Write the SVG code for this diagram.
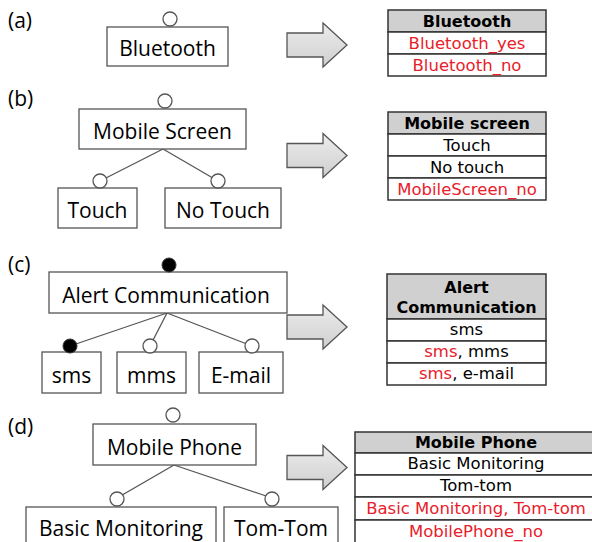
<svg xmlns="http://www.w3.org/2000/svg" width="592" height="542" viewBox="0 0 592 542">
<style>
.box{fill:#fff;stroke:#555;stroke-width:1.3}
.oc{fill:#fff;stroke:#555;stroke-width:1.3}
.fc{fill:#000;stroke:#333;stroke-width:1}
.nt{font-family:"Open Sans","Liberation Sans",sans-serif;font-size:21px;fill:#000;text-anchor:middle}
.lab{font-family:"Open Sans","Liberation Sans",sans-serif;font-size:21px;fill:#000}
.ln{stroke:#555;stroke-width:1.3;fill:none}
.arr{fill:url(#ag);stroke:#555;stroke-width:1.3}
.th{fill:#d0d0d0;stroke:#333;stroke-width:1.5}
.td{fill:#fff;stroke:#333;stroke-width:1.5}
.tt{font-family:"DejaVu Sans",Verdana,sans-serif;font-size:16.5px;fill:#000;text-anchor:middle}
.tb{font-family:"DejaVu Sans",Verdana,sans-serif;font-size:16px;font-weight:bold;fill:#000;text-anchor:middle}
.red{fill:#e8202a}
</style>
<defs>
<linearGradient id="ag" x1="0" y1="0" x2="0" y2="1">
<stop offset="0" stop-color="#ececec"/>
<stop offset="1" stop-color="#cfcfcf"/>
</linearGradient>
<path id="arrow" d="M0,-12 H36 V-22 L60,0 L36,22 V12 H0 Z"/>
</defs>

<g id="labels">
<text class="lab" x="8" y="28">(a)</text>
<text class="lab" x="8" y="106">(b)</text>
<text class="lab" x="8" y="272">(c)</text>
<text class="lab" x="8" y="434">(d)</text>
</g>

<g id="connectors">
<line class="ln" x1="163" y1="149" x2="100" y2="181"/>
<line class="ln" x1="163" y1="149" x2="218" y2="181"/>
<line class="ln" x1="167" y1="313" x2="70" y2="346"/>
<line class="ln" x1="167" y1="313" x2="150" y2="346"/>
<line class="ln" x1="167" y1="313" x2="252" y2="346"/>
<line class="ln" x1="174" y1="465" x2="117" y2="498"/>
<line class="ln" x1="174" y1="465" x2="272" y2="498"/>
</g>

<g id="bluetooth">
<rect class="box" x="107" y="27" width="121" height="39"/>
<circle class="oc" cx="170" cy="19" r="7"/>
<text class="nt" x="167.5" y="56">Bluetooth</text>
</g>

<g id="mobile-screen">
<rect class="box" x="79" y="109" width="167" height="40"/>
<circle class="oc" cx="165" cy="101" r="7"/>
<text class="nt" x="162.5" y="139">Mobile Screen</text>
</g>
<g id="touch">
<rect class="box" x="58" y="188" width="79" height="40"/>
<circle class="oc" cx="100" cy="181" r="7"/>
<text class="nt" x="97.5" y="218">Touch</text>
</g>
<g id="no-touch">
<rect class="box" x="165" y="188" width="116" height="40"/>
<circle class="oc" cx="218" cy="181" r="7"/>
<text class="nt" x="223" y="218">No Touch</text>
</g>

<g id="alert-communication">
<rect class="box" x="49" y="272" width="238" height="41"/>
<circle class="fc" cx="169" cy="265" r="7"/>
<text class="nt" x="166" y="303">Alert Communication</text>
</g>
<g id="sms">
<rect class="box" x="42" y="352" width="59" height="41"/>
<circle class="fc" cx="70" cy="346" r="7"/>
<text class="nt" x="71.5" y="383">sms</text>
</g>
<g id="mms">
<rect class="box" x="117" y="352" width="69" height="41"/>
<circle class="oc" cx="150" cy="346" r="7"/>
<text class="nt" x="151.5" y="383">mms</text>
</g>
<g id="email">
<rect class="box" x="199" y="352" width="84" height="41"/>
<circle class="oc" cx="252" cy="346" r="7"/>
<text class="nt" x="241" y="383">E-mail</text>
</g>

<g id="mobile-phone">
<rect class="box" x="93" y="424" width="163" height="41"/>
<circle class="oc" cx="173" cy="415" r="7"/>
<text class="nt" x="174.5" y="455">Mobile Phone</text>
</g>
<g id="basic-monitoring">
<rect class="box" x="26" y="507" width="190" height="45"/>
<circle class="oc" cx="117" cy="499" r="7"/>
<text class="nt" x="121" y="535.5">Basic Monitoring</text>
</g>
<g id="tom-tom">
<rect class="box" x="224" y="507" width="114" height="45"/>
<circle class="oc" cx="272" cy="499" r="7"/>
<text class="nt" x="281" y="535.5">Tom-Tom</text>
</g>

<g id="arrows">
<use href="#arrow" class="arr" x="287" y="45"/>
<use href="#arrow" class="arr" x="287" y="155.5"/>
<use href="#arrow" class="arr" x="287" y="327"/>
<use href="#arrow" class="arr" x="287" y="467.5"/>
</g>

<g id="table-a">
<rect class="th" x="388" y="10" width="158" height="22"/>
<rect class="td" x="388" y="32" width="158" height="22"/>
<rect class="td" x="388" y="54" width="158" height="22"/>
<text class="tb" x="467" y="27">Bluetooth</text>
<text class="tt red" x="467" y="49">Bluetooth_yes</text>
<text class="tt red" x="467" y="71">Bluetooth_no</text>
</g>

<g id="table-b">
<rect class="th" x="388" y="112" width="158" height="22"/>
<rect class="td" x="388" y="134" width="158" height="22"/>
<rect class="td" x="388" y="156" width="158" height="22"/>
<rect class="td" x="388" y="178" width="158" height="22"/>
<text class="tb" x="467" y="129">Mobile screen</text>
<text class="tt" x="467" y="151">Touch</text>
<text class="tt" x="467" y="173">No touch</text>
<text class="tt red" x="467" y="195">MobileScreen_no</text>
</g>

<g id="table-c">
<rect class="th" x="387" y="274" width="159" height="45"/>
<rect class="td" x="387" y="319" width="159" height="22"/>
<rect class="td" x="387" y="341" width="159" height="22"/>
<rect class="td" x="387" y="363" width="159" height="22"/>
<text class="tb" x="466.5" y="293">Alert</text>
<text class="tb" x="466.5" y="313">Communication</text>
<text class="tt" x="466.5" y="335">sms</text>
<text class="tt" x="466.5" y="357"><tspan class="red">sms</tspan>, mms</text>
<text class="tt" x="466.5" y="379"><tspan class="red">sms</tspan>, e-mail</text>
</g>

<g id="table-d">
<rect class="th" x="355" y="432" width="242" height="21"/>
<rect class="td" x="355" y="453" width="242" height="22"/>
<rect class="td" x="355" y="475" width="242" height="22"/>
<rect class="td" x="355" y="497" width="242" height="23"/>
<rect class="td" x="355" y="520" width="242" height="24"/>
<text class="tb" x="476" y="448">Mobile Phone</text>
<text class="tt" x="476" y="469">Basic Monitoring</text>
<text class="tt" x="476" y="491">Tom-tom</text>
<text class="tt red" x="476" y="514">Basic Monitoring, Tom-tom</text>
<text class="tt red" x="476" y="537">MobilePhone_no</text>
</g>
</svg>
